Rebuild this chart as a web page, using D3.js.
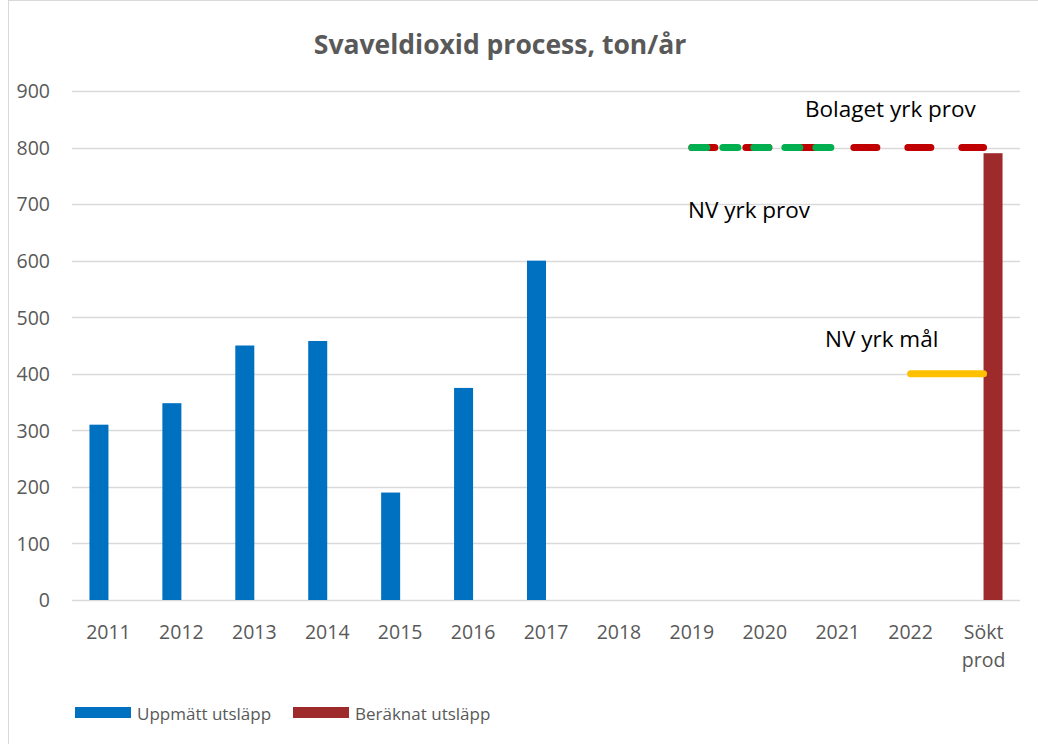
<!DOCTYPE html>
<meta charset="utf-8">
<style>
body { margin: 0; background: #fff; }
svg text { font-family: "Open Sans", "Noto Sans", sans-serif; }
.tick text { fill: #595959; font-size: 19.5px; }
</style>
<svg id="chart" width="1038" height="744"></svg>
<script src="https://cdn.jsdelivr.net/npm/d3@7/dist/d3.min.js"></script>
<script>

var categories = ["2011", "2012", "2013", "2014", "2015", "2016", "2017", "2018", "2019", "2020", "2021", "2022", "Sökt prod"];
var measured = [310, 348, 450, 458, 190, 375, 600, null, null, null, null, null, null];
var calculated = [null, null, null, null, null, null, null, null, null, null, null, null, 790];
var companyClaim = [null, null, null, null, null, null, null, null, 800, 800, 800, 800, 800];
var nvClaim = [null, null, null, null, null, null, null, null, 800, 800, 800, null, null];
var nvTarget = [null, null, null, null, null, null, null, null, null, null, null, 400, 400];
var yTicks = [0, 100, 200, 300, 400, 500, 600, 700, 800, 900];

var svg = d3.select("#chart");

// outer chart border
svg.append("rect")
  .attr("x", 8.5).attr("y", 0.5)
  .attr("width", 1040).attr("height", 760)
  .attr("fill", "none").attr("stroke", "#d9d9d9");

var plotLeft = 72, plotRight = 1020, plotTop = 91, plotBottom = 600;

var x = d3.scaleBand().domain(categories).range([plotLeft, plotRight]);
var y = d3.scaleLinear().domain([0, 900]).range([plotBottom, plotTop]);
var barW = 19;

// gridlines
svg.append("g").selectAll("line")
  .data(yTicks)
  .enter().append("line")
    .attr("x1", plotLeft).attr("x2", plotRight)
    .attr("y1", function(d) { return Math.round(y(d)) + 0.5; })
    .attr("y2", function(d) { return Math.round(y(d)) + 0.5; })
    .attr("stroke", "#d9d9d9").attr("stroke-width", 1.5);

// y axis labels
var yAxis = svg.append("g")
  .attr("transform", "translate(" + (plotLeft - 22) + ",0)")
  .call(d3.axisLeft(y).tickValues(yTicks).tickSize(0).tickPadding(0));
yAxis.select(".domain").remove();
yAxis.selectAll("text").attr("dy", "0.35em");

// x axis labels, "Sökt prod" wraps onto two lines
var xAxis = svg.append("g")
  .attr("transform", "translate(0," + plotBottom + ")")
  .call(d3.axisBottom(x).tickSize(0).tickPadding(0));
xAxis.select(".domain").remove();
xAxis.selectAll("text").each(function(d) {
  var t = d3.select(this).text("").attr("y", 39).attr("dy", 0);
  d.split(" ").forEach(function(w, i) {
    t.append("tspan").attr("x", 0).attr("dy", i === 0 ? 0 : 28).text(w);
  });
});

// bars: measured left of band centre, calculated right of it
var barsG = svg.append("g");
measured.forEach(function(v, i) {
  if (v == null) return;
  barsG.append("rect")
    .attr("x", x(categories[i]) + x.bandwidth() / 2 - barW)
    .attr("y", y(v)).attr("width", barW).attr("height", y(0) - y(v))
    .attr("fill", "#0070c0");
});
calculated.forEach(function(v, i) {
  if (v == null) return;
  barsG.append("rect")
    .attr("x", x(categories[i]) + x.bandwidth() / 2)
    .attr("y", y(v)).attr("width", barW).attr("height", y(0) - y(v))
    .attr("fill", "#9e2a2b");
});

// line series, drawn through band centres
var line = d3.line()
  .defined(function(d) { return d != null; })
  .x(function(d, i) { return x(categories[i]) + x.bandwidth() / 2; })
  .y(function(d) { return y(d); });

svg.append("path").datum(companyClaim)
  .attr("d", line).attr("fill", "none")
  .attr("stroke", "#c00000").attr("stroke-width", 7)
  .attr("stroke-linecap", "round").attr("stroke-dasharray", "23 31");

svg.append("path").datum(nvClaim)
  .attr("d", line).attr("fill", "none")
  .attr("stroke", "#00b050").attr("stroke-width", 7)
  .attr("stroke-linecap", "round").attr("stroke-dasharray", "15 16");

svg.append("path").datum(nvTarget)
  .attr("d", line).attr("fill", "none")
  .attr("stroke", "#ffc000").attr("stroke-width", 7)
  .attr("stroke-linecap", "round");

// line labels
var labels = [
  {text: "Bolaget yrk prov", x: 805, y: 117},
  {text: "NV yrk prov", x: 688, y: 218},
  {text: "NV yrk mål", x: 825, y: 347}
];
svg.append("g").selectAll("text")
  .data(labels)
  .enter().append("text")
    .attr("x", function(d) { return d.x; })
    .attr("y", function(d) { return d.y; })
    .attr("font-size", 22.5)
    .attr("fill", "#000")
    .text(function(d) { return d.text; });

// title
svg.append("text")
  .attr("x", 500).attr("y", 54)
  .attr("text-anchor", "middle")
  .attr("font-size", 26.5).attr("font-weight", "bold")
  .attr("fill", "#595959")
  .text("Svaveldioxid process, ton/år");

// legend
var legend = [
  {name: "Uppmätt utsläpp", color: "#0070c0", x: 75},
  {name: "Beräknat utsläpp", color: "#9e2a2b", x: 293}
];
var lg = svg.append("g").selectAll("g")
  .data(legend)
  .enter().append("g")
    .attr("transform", function(d) { return "translate(" + d.x + ",707)"; });
lg.append("rect").attr("width", 56).attr("height", 11).attr("fill", function(d) { return d.color; });
lg.append("text").attr("x", 62).attr("y", 13)
  .attr("font-size", 17).attr("fill", "#595959")
  .text(function(d) { return d.name; });

</script>
